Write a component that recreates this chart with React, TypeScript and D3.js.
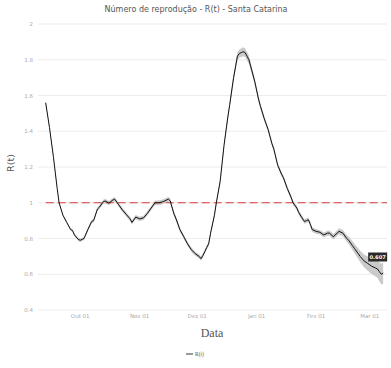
import React from "react";
import * as d3 from "d3";

const dates = [
  "2020-09-13","2020-09-15","2020-09-17","2020-09-19","2020-09-20","2020-09-22","2020-09-24","2020-09-26","2020-09-27","2020-09-28","2020-09-30",
  "2020-10-01","2020-10-02","2020-10-03","2020-10-05","2020-10-07","2020-10-08","2020-10-10","2020-10-11","2020-10-13","2020-10-14","2020-10-16","2020-10-18","2020-10-19","2020-10-21","2020-10-23","2020-10-25","2020-10-27","2020-10-28","2020-10-30",
  "2020-11-01","2020-11-03","2020-11-05","2020-11-07","2020-11-09","2020-11-11","2020-11-13","2020-11-15","2020-11-16","2020-11-17","2020-11-18","2020-11-19","2020-11-20","2020-11-22","2020-11-24","2020-11-26","2020-11-28","2020-11-30",
  "2020-12-02","2020-12-03","2020-12-04","2020-12-05","2020-12-06","2020-12-07","2020-12-08","2020-12-10","2020-12-11","2020-12-13","2020-12-15","2020-12-17","2020-12-18","2020-12-20","2020-12-21","2020-12-22","2020-12-23","2020-12-24","2020-12-25","2020-12-26","2020-12-27","2020-12-28","2020-12-29","2020-12-31",
  "2021-01-02","2021-01-03","2021-01-05","2021-01-07","2021-01-09","2021-01-10","2021-01-12","2021-01-14","2021-01-15","2021-01-17","2021-01-19","2021-01-20","2021-01-22","2021-01-23","2021-01-25","2021-01-26","2021-01-27","2021-01-28","2021-01-29","2021-01-30",
  "2021-02-01","2021-02-03","2021-02-05","2021-02-07","2021-02-08","2021-02-10","2021-02-12","2021-02-13","2021-02-15","2021-02-17","2021-02-18","2021-02-20","2021-02-21","2021-02-23","2021-02-24","2021-02-26","2021-02-28",
  "2021-03-02","2021-03-04","2021-03-05","2021-03-06","2021-03-07","2021-03-08"
];

const rt = [
  1.56,1.42,1.26,1.08,1.0,0.93,0.89,0.85,0.845,0.82,0.795,
  0.79,0.795,0.80,0.85,0.895,0.90,0.965,0.975,1.005,1.01,0.998,1.015,1.02,0.99,0.96,0.935,0.91,0.89,0.92,
  0.91,0.915,0.94,0.97,1.0,1.0,1.005,1.015,1.02,1.01,0.97,0.935,0.91,0.85,0.81,0.77,0.737,0.715,
  0.70,0.687,0.705,0.727,0.75,0.77,0.83,0.93,1.0,1.12,1.32,1.48,1.55,1.70,1.76,1.82,1.835,1.84,1.845,1.84,1.82,1.80,1.76,1.68,
  1.58,1.54,1.47,1.41,1.33,1.30,1.21,1.16,1.14,1.08,1.03,1.0,0.97,0.945,0.91,0.895,0.90,0.905,0.88,0.85,
  0.84,0.835,0.82,0.83,0.83,0.81,0.83,0.84,0.83,0.80,0.79,0.76,0.745,0.715,0.70,0.675,0.66,
  0.645,0.635,0.63,0.615,0.60,0.607
];

const ciHalf = [
  0.006,0.006,0.006,0.006,0.006,0.006,0.006,0.007,0.007,0.008,0.009,
  0.009,0.009,0.009,0.01,0.01,0.01,0.01,0.011,0.012,0.012,0.012,0.012,0.012,0.012,0.012,0.012,0.012,0.012,0.012,
  0.012,0.012,0.012,0.012,0.012,0.012,0.013,0.013,0.013,0.013,0.013,0.013,0.013,0.012,0.012,0.012,0.012,0.012,
  0.012,0.012,0.012,0.012,0.012,0.012,0.012,0.012,0.012,0.013,0.014,0.016,0.017,0.019,0.02,0.022,0.023,0.024,0.025,0.025,0.024,0.022,0.02,0.018,
  0.016,0.015,0.014,0.013,0.013,0.013,0.013,0.013,0.013,0.013,0.013,0.013,0.013,0.013,0.013,0.013,0.013,0.013,0.013,0.013,
  0.013,0.013,0.014,0.014,0.015,0.015,0.016,0.017,0.018,0.02,0.021,0.024,0.026,0.03,0.032,0.036,0.04,
  0.044,0.048,0.05,0.054,0.058,0.06
];

const yTicks = [0.4, 0.6, 0.8, 1, 1.2, 1.4, 1.6, 1.8, 2];
const xTickDates = ["2020-10-01","2020-11-01","2020-12-01","2021-01-01","2021-02-01","2021-03-01"];
const xTickLabels = ["Out 01","Nov 01","Dez 01","Jan 01","Fev 01","Mar 01"];

const W = 391, H = 368;
const parse = d3.timeParse("%Y-%m-%d");

export default function App() {
  const x = d3.scaleTime()
    .domain([parse("2020-09-09")!, parse("2021-03-10")!])
    .range([38, 387]);
  const y = d3.scaleLinear().domain([0.4, 2]).range([310, 24]);

  const data = dates.map((d, i) => ({ date: parse(d)!, v: rt[i], lo: rt[i] - ciHalf[i], hi: rt[i] + ciHalf[i] }));

  const line = d3.line<any>().x(d => x(d.date)).y(d => y(d.v));
  const area = d3.area<any>().x(d => x(d.date)).y0(d => y(d.lo)).y1(d => y(d.hi));

  const last = data[data.length - 1];
  const lx = x(last.date), ly = y(last.v);

  return (
    <svg width={W} height={H} style={{ position: "absolute", left: 0, top: 0, background: "#fff" }}>
      <text x={196} y={12} textAnchor="middle" fontFamily="DejaVu Sans" fontSize={8} fill="#555">
        Número de reprodução - R(t) - Santa Catarina
      </text>
      {yTicks.map(t => (
        <g key={t}>
          <line x1={38} x2={387} y1={y(t)} y2={y(t)} stroke="#ececec" strokeWidth={1} />
          <text x={33} y={y(t) + 2} textAnchor="end" fontFamily="DejaVu Sans" fontSize={5.5} fill="#aaa">
            {d3.format("~g")(t)}
          </text>
        </g>
      ))}
      {xTickDates.map((d, i) => (
        <text key={d} x={x(parse(d)!)} y={318} textAnchor="middle" fontFamily="DejaVu Sans" fontSize={5.5} fill="#aaa">
          {xTickLabels[i]}
        </text>
      ))}
      <text transform={`translate(14,${y(1.2) - 4}) rotate(-90)`} textAnchor="middle" fontFamily="DejaVu Sans" fontSize={9.5} fill="#555">
        R(t)
      </text>
      <text x={212} y={337} textAnchor="middle" fontFamily="Liberation Serif" fontSize={12} fill="#555">
        Data
      </text>
      <line x1={186} x2={193} y1={354} y2={354} stroke="#333" strokeWidth={1} />
      <text x={195} y={356} fontFamily="Liberation Serif" fontSize={5.5} fill="#555">R(t)</text>

      <path d={area(data) || ""} fill="#c4c4c4" opacity={0.9} />
      <line x1={x(data[0].date)} x2={387} y1={y(1)} y2={y(1)} stroke="#d63b3b" strokeWidth={1.2} strokeDasharray="8,4" />
      <path d={line(data) || ""} fill="none" stroke="#111" strokeWidth={1} />

      <rect x={lx - 15} y={ly - 20.5} width={19} height={9} fill="#2a2a2a" />
      <text x={lx - 5.5} y={ly - 14} textAnchor="middle" fontFamily="DejaVu Sans" fontWeight="bold" fontSize={5.2} fill="#fff">
        {d3.format(".3f")(last.v)}
      </text>
    </svg>
  );
}
